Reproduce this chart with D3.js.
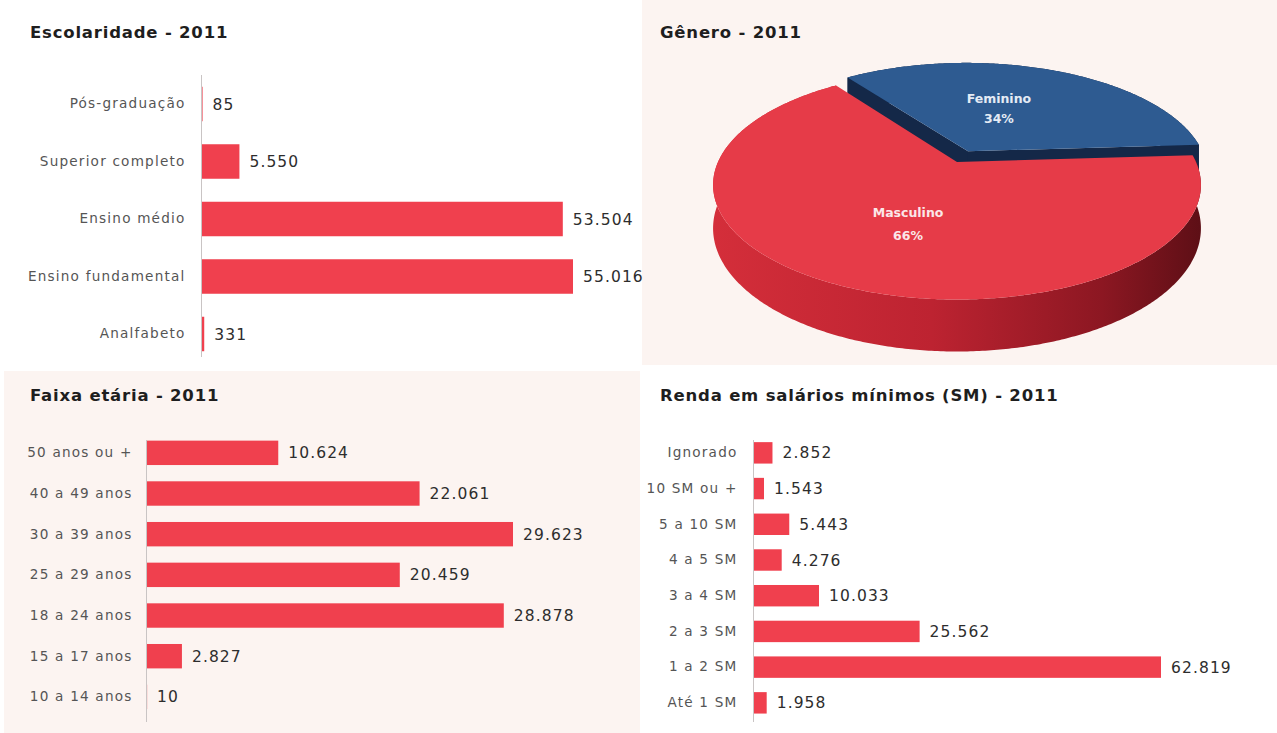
<!DOCTYPE html>
<html>
<head>
<meta charset="utf-8">
<script src="https://cdn.jsdelivr.net/npm/d3@7/dist/d3.min.js"></script>
<style>
  html, body { margin: 0; padding: 0; background: #ffffff; }
  svg { display: block; }
  .title { font-family: "DejaVu Sans", sans-serif; font-weight: bold; font-size: 16.5px; letter-spacing: 0.8px; fill: #1e1e1e; }
  .cat { font-family: "DejaVu Sans", sans-serif; font-size: 13.6px; letter-spacing: 1.2px; fill: #555555; }
  .val { font-family: "DejaVu Sans", sans-serif; font-size: 15.5px; letter-spacing: 1.1px; fill: #2d2d2d; }
  .pielbl { font-family: "DejaVu Sans", sans-serif; font-weight: bold; font-size: 12.5px; }
</style>
</head>
<body>
<svg id="chart" width="1277" height="733"></svg>
<script>
// Escolaridade - 2011
const escolaridadeCats = ["Pós-graduação", "Superior completo", "Ensino médio", "Ensino fundamental", "Analfabeto"];
const escolaridadeVals = [85, 5550, 53504, 55016, 331];

// Gênero - 2011 (percent)
const generoCats = ["Feminino", "Masculino"];
const generoVals = [34, 66];

// Faixa etária - 2011
const faixaCats = ["50 anos ou +", "40 a 49 anos", "30 a 39 anos", "25 a 29 anos", "18 a 24 anos", "15 a 17 anos", "10 a 14 anos"];
const faixaVals = [10624, 22061, 29623, 20459, 28878, 2827, 10];

// Renda em salários mínimos (SM) - 2011
const rendaCats = ["Ignorado", "10 SM ou +", "5 a 10 SM", "4 a 5 SM", "3 a 4 SM", "2 a 3 SM", "1 a 2 SM", "Até 1 SM"];
const rendaVals = [2852, 1543, 5443, 4276, 10033, 25562, 62819, 1958];

const svg = d3.select("#chart");
const BAR = "#f0404e";
const PANEL = "#fcf4f1";
const fmt = v => d3.format(",")(v).replace(/,/g, ".");

// panel backgrounds
svg.append("rect").attr("x", 642).attr("y", 0).attr("width", 635).attr("height", 365).attr("fill", PANEL);
svg.append("rect").attr("x", 4).attr("y", 371).attr("width", 636).attr("height", 362).attr("fill", PANEL);

function barPanel(opts) {
  const g = svg.append("g");
  g.append("text").attr("class", "title").attr("x", opts.titleX).attr("y", opts.titleY).text(opts.title);

  const y = d3.scaleBand().domain(opts.cats).range(opts.yRange).paddingInner(0.4).paddingOuter(0.2);
  const x = d3.scaleLinear().domain([0, opts.domainMax]).range([opts.x0, opts.x0 + opts.width]);

  g.selectAll("rect.bar").data(opts.vals).join("rect")
    .attr("class", "bar")
    .attr("x", x(0))
    .attr("y", (d, i) => y(opts.cats[i]))
    .attr("width", d => x(d) - x(0))
    .attr("height", y.bandwidth())
    .attr("fill", BAR);

  const axis = d3.axisLeft(y).tickSize(0).tickPadding(opts.labelGap);
  const ag = g.append("g").attr("transform", `translate(${x(0) - 0.5},0)`).call(axis);
  ag.select(".domain").attr("stroke", "#c9c4c4").attr("stroke-width", 1)
    .attr("d", `M0,${opts.axisY[0]}V${opts.axisY[1]}`);
  ag.selectAll(".tick text").attr("class", "cat").attr("fill", null).attr("font-size", null).attr("font-family", null);

  g.selectAll("text.val").data(opts.vals).join("text")
    .attr("class", "val")
    .attr("x", d => x(d) + 10)
    .attr("y", (d, i) => y(opts.cats[i]) + y.bandwidth() / 2)
    .attr("dy", "0.36em")
    .text(d => fmt(d));
}

barPanel({
  title: "Escolaridade - 2011", titleX: 30, titleY: 38,
  cats: escolaridadeCats, vals: escolaridadeVals,
  yRange: [75.25, 362.75], axisY: [75, 357],
  x0: 202, domainMax: 60000, width: 60000 * 371 / 55016, labelGap: 16
});

barPanel({
  title: "Faixa etária - 2011", titleX: 30, titleY: 401,
  cats: faixaCats, vals: faixaVals,
  yRange: [432.5, 717.2], axisY: [440, 722],
  x0: 147, domainMax: 30000, width: 30000 * 366 / 29623, labelGap: 14
});

barPanel({
  title: "Renda em salários mínimos (SM) - 2011", titleX: 660, titleY: 401,
  cats: rendaCats, vals: rendaVals,
  yRange: [435, 720.7], axisY: [440, 722],
  x0: 754, domainMax: 70000, width: 70000 * 407 / 62819, labelGap: 16
});

// ---- 3D pie: Gênero ----
svg.append("text").attr("class", "title").attr("x", 660).attr("y", 38).text("Gênero - 2011");

const P = { cx: 957, cy: 162, A: 239, B: 110, k: 0.2, depth: 52 };
// project a point on the disc (angle from the back, clockwise) with optional offset and height
function proj(theta, r, off, h) {
  const X = r * Math.sin(theta) + off[0];
  const F = -r * Math.cos(theta) + off[1];
  const w = 1 - P.k * F;
  return [P.cx + P.A * X / w, P.cy + (P.B * F + h) / w];
}
function arcPts(a0, a1, off, h) {
  const n = Math.max(2, Math.ceil(Math.abs(a1 - a0) / 0.01));
  return d3.range(n + 1).map(i => proj(a0 + (a1 - a0) * i / n, 1, off, h));
}
const line = d3.line();

const startAngle = -36 * Math.PI / 180;
const pie = d3.pie().sort(null).value(d => d).startAngle(startAngle).endAngle(startAngle + 2 * Math.PI);
const arcs = pie(generoVals).map((a, i) => {
  const mid = (a.startAngle + a.endAngle) / 2;
  const e = i === 0 ? 0.11 : 0;
  return { ...a, name: generoCats[i], mid, off: [e * Math.sin(mid), -e * Math.cos(mid)] };
});

const defs = svg.append("defs");
const sideGrad = defs.append("linearGradient").attr("id", "redSide")
  .attr("gradientUnits", "userSpaceOnUse").attr("x1", 712).attr("y1", 0).attr("x2", 1200).attr("y2", 0);
sideGrad.append("stop").attr("offset", "0%").attr("stop-color", "#d42e3a");
sideGrad.append("stop").attr("offset", "45%").attr("stop-color", "#bd2331");
sideGrad.append("stop").attr("offset", "80%").attr("stop-color", "#8c1722");
sideGrad.append("stop").attr("offset", "100%").attr("stop-color", "#5e0f16");
const blueSide = "#142848";
const sliceTop = ["#2e5b91", "#e63b48"];
const D = P.depth * (1 - P.k);

const pg = svg.append("g");
arcs.forEach((a, i) => {
  const c0 = proj(0, 0, a.off, 0), c1 = proj(0, 0, a.off, D);
  const sideFill = i === 0 ? blueSide : "url(#redSide)";
  // outer wall
  const top = arcPts(a.startAngle, a.endAngle, a.off, 0);
  const bot = arcPts(a.startAngle, a.endAngle, a.off, D).reverse();
  pg.append("path").attr("d", line(top.concat(bot)) + "Z").attr("fill", sideFill);
  // radial walls
  if (i === 0) {
    [a.startAngle, a.endAngle].forEach(t => {
      const r0 = proj(t, 1, a.off, 0), r1 = proj(t, 1, a.off, D);
      pg.append("path").attr("d", line([c0, r0, r1, c1]) + "Z").attr("fill", blueSide);
    });
  }
  // top face
  pg.append("path").attr("d", line([c0].concat(top)) + "Z").attr("fill", sliceTop[i]);
});

// slice labels
arcs.forEach((a, i) => {
  const p = proj(a.mid, 0.5, a.off, 0);
  const dx = i === 0 ? -14 : 7;
  const t = pg.append("text").attr("class", "pielbl").attr("text-anchor", "middle")
    .attr("fill", i === 0 ? "#e4ebf5" : "#fbe6e8");
  t.append("tspan").attr("x", p[0] + dx).attr("y", p[1] - (i === 0 ? 4 : 0)).text(a.name);
  t.append("tspan").attr("x", p[0] + dx).attr("y", p[1] + (i === 0 ? 16 : 23)).text(Math.round(a.data) + "%");
});
</script>
</body>
</html>
